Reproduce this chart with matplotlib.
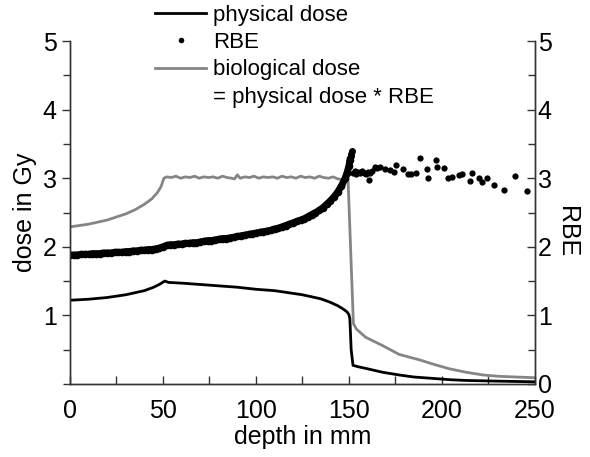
import matplotlib.pyplot as plt
from matplotlib.lines import Line2D
from matplotlib.ticker import MultipleLocator

plt.rcParams['font.family'] = ['Liberation Sans', 'DejaVu Sans']

# physical dose (Gy) vs depth (mm)
phys_depth = [0, 10, 20, 30, 40, 45, 48, 51, 53, 60, 70, 80, 90, 100, 110, 115, 120, 125,
              130, 135, 140, 144, 147, 149, 150, 150.5, 151.2, 152.2, 155, 160, 168, 177,
              185, 195, 205, 213, 230, 250]
phys_dose = [1.22, 1.235, 1.26, 1.30, 1.36, 1.41, 1.45, 1.50, 1.48, 1.47, 1.45, 1.43, 1.41,
             1.38, 1.36, 1.34, 1.32, 1.30, 1.27, 1.24, 1.19, 1.14, 1.09, 1.05, 1.01, 0.95,
             0.5, 0.27, 0.25, 0.22, 0.17, 0.13, 0.10, 0.08, 0.06, 0.05, 0.04, 0.03]

# biological dose (Gy) vs depth (mm)
bio_depth = [0, 10, 20, 30, 35, 40, 44, 47, 49, 50.5, 52,
             54.5, 57, 59.5, 62, 64.5, 67, 69.5, 72, 74.5, 77, 79.5, 82, 84.5, 87, 88.5,
             90, 91.5, 94, 96.5, 99, 101.5, 104, 106.5, 109, 111.5, 114, 116.5, 119,
             121.5, 124, 126.5, 129, 131.5, 134, 136.5, 139, 141.5, 144, 146.5, 149.5,
             152.4, 153, 154, 159, 168, 177, 188, 195, 204, 213, 222, 231, 240, 250]
bio_dose = [2.29, 2.33, 2.39, 2.48, 2.54, 2.62, 2.70, 2.79, 2.88, 3.00, 3.02,
            3.01, 3.03, 3.00, 3.02, 3.01, 3.03, 3.00, 3.02, 3.01, 3.02, 3.00, 3.03, 3.01,
            3.00, 2.99, 3.05, 3.00, 3.02, 3.01, 3.03, 3.00, 3.02, 3.01, 3.02, 3.00, 3.03,
            3.01, 3.02, 3.00, 3.03, 3.01, 3.02, 3.00, 3.03, 3.01, 3.00, 3.02, 2.99, 2.98,
            3.00, 0.88, 0.85, 0.80, 0.68, 0.56, 0.43, 0.35, 0.29, 0.22, 0.17, 0.13, 0.11,
            0.10, 0.09]

# RBE values, dense band up to the Bragg peak
rbe_depth = list(range(0, 149, 2)) + [149, 150, 150.5, 151, 151.3, 151.6]
rbe_vals = [1.88, 1.88, 1.88, 1.89, 1.89, 1.89, 1.90, 1.90, 1.90, 1.91, 1.91, 1.91, 1.92,
            1.92, 1.92, 1.93, 1.93, 1.94, 1.94, 1.95, 1.95, 1.96, 1.96, 1.97, 1.98, 2.00,
            2.02, 2.03, 2.03, 2.04, 2.04, 2.05, 2.05, 2.06, 2.06, 2.07, 2.08, 2.09, 2.09,
            2.10, 2.11, 2.12, 2.12, 2.13, 2.14, 2.15, 2.16, 2.17, 2.18, 2.19, 2.20, 2.21,
            2.22, 2.23, 2.24, 2.26, 2.27, 2.29, 2.31, 2.33, 2.35, 2.37, 2.39, 2.41, 2.44,
            2.47, 2.50, 2.53, 2.57, 2.62, 2.67, 2.73, 2.80, 2.89, 3.00,
            3.08, 3.18, 3.26, 3.32, 3.36, 3.40]

# RBE scatter behind the peak
rbe_tail_depth = [152, 153, 154, 155, 156, 157, 158, 159, 160, 160.6, 161.5, 162.5, 163.8,
                  165, 166.7, 169.4, 172, 174.4, 175.5, 179, 181.6, 183.5, 186, 188.4,
                  191.9, 192.7, 196.7, 197.2, 201.1, 203.3, 205.6, 209.2, 211, 215.3, 216,
                  220, 221.8, 224.1, 228, 233.3, 239.2, 245.7]
rbe_tail_vals = [3.08, 3.10, 3.06, 3.09, 3.07, 3.10, 3.08, 3.06, 3.09, 2.98, 3.08, 3.10,
                 3.17, 3.15, 3.16, 3.14, 3.12, 3.09, 3.19, 3.13, 3.06, 3.06, 3.07, 3.29,
                 3.13, 3.00, 3.27, 3.16, 3.15, 3.00, 3.02, 3.05, 3.06, 2.96, 3.07, 3.00,
                 2.94, 3.00, 2.90, 2.83, 3.03, 2.81]

fig = plt.figure(figsize=(5.9, 4.57), dpi=100)
ax = fig.add_axes([0.1186, 0.16, 0.788, 0.75])
ax2 = ax.twinx()

ax.plot(phys_depth, phys_dose, color='black', lw=2)
ax.plot(bio_depth, bio_dose, color='#858585', lw=2)
# the dense RBE dots merge into a thick band
ax2.plot(rbe_depth[:-3], rbe_vals[:-3], '-o', color='black', lw=5, ms=5.5, mew=0)
ax2.plot(rbe_depth[-3:], rbe_vals[-3:], 'o', color='black', ms=5, mew=0)
ax2.plot(rbe_tail_depth, rbe_tail_vals, 'o', color='black', ms=4.5, mew=0)

ax.set_xlim(0, 250)
ax.set_ylim(0, 5)
ax2.set_ylim(0, 5)
ax.xaxis.set_major_locator(MultipleLocator(50))
ax.xaxis.set_minor_locator(MultipleLocator(25))
for a in (ax, ax2):
    a.yaxis.set_major_locator(MultipleLocator(1))
    a.yaxis.set_minor_locator(MultipleLocator(0.5))
    a.spines['top'].set_visible(False)
    for s in a.spines.values():
        s.set_color('#333333')
        s.set_linewidth(1)

ax.set_yticks([1, 2, 3, 4, 5])
ax.tick_params(axis='y', which='both', direction='out', length=6, width=1,
               color='#333333', labelsize=18)
ax.tick_params(axis='y', which='minor', length=5)
ax.tick_params(axis='x', which='both', direction='in', length=6, width=1,
               color='#333333', labelsize=18, pad=11)
ax2.tick_params(axis='y', which='both', direction='in', length=6, width=1,
                color='#333333', labelsize=18, pad=2)
ax2.tick_params(axis='y', which='minor', length=5)

ax.set_xlabel('depth in mm', fontsize=18, labelpad=1)
ax.set_ylabel('dose in Gy', fontsize=18, labelpad=4)
ax2.set_ylabel('RBE', fontsize=18, rotation=-90, va='center')
ax2.yaxis.set_label_coords(1.07, 0.445)

handles = [Line2D([], [], color='black', lw=2),
           Line2D([], [], color='black', ls='none', marker='o', ms=4, mew=0),
           Line2D([], [], color='#858585', lw=2),
           Line2D([], [], ls='none')]
labels = ['physical dose', 'RBE', 'biological dose', '= physical dose * RBE']
fig.legend(handles, labels, loc='upper left', bbox_to_anchor=(155 / 590, 1 - 5 / 457),
           frameon=False, fontsize=16, handlelength=2.3, handletextpad=0.3,
           labelspacing=0.28, borderpad=0, borderaxespad=0)

fig.savefig('out.png', dpi=100)
